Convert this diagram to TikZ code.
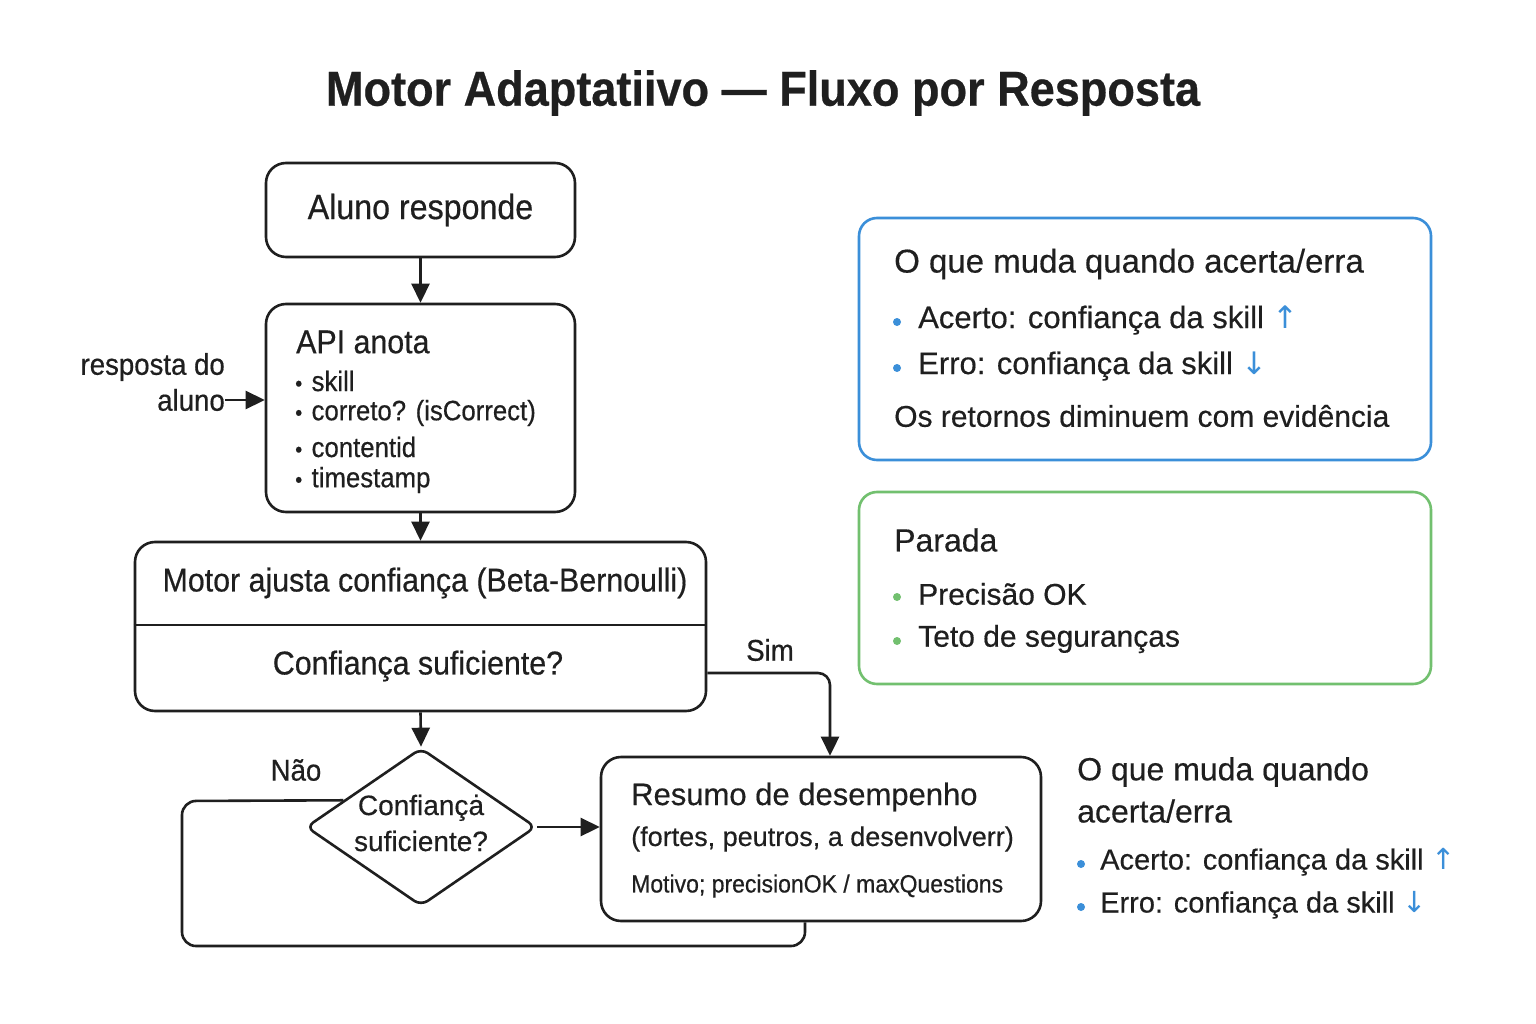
\documentclass[tikz,border=0pt]{standalone}
\usepackage{fontspec}
\setmainfont[FakeBold=0.4]{Liberation Sans}
\newfontfamily\cond[FakeStretch=0.92,FakeBold=0.5]{Liberation Sans}
\newfontfamily\dejavu{DejaVu Sans}
\usetikzlibrary{arrows.meta,shapes.geometric,calc}
\definecolor{ink}{HTML}{1F1F1F}
\definecolor{cblue}{HTML}{3B8FD9}
\definecolor{cgreen}{HTML}{72C06F}
\newcommand\fsz[2]{\fontsize{#1}{#2}\selectfont}
\begin{document}
\begin{tikzpicture}[x=1pt,y=-1pt,
  box/.style={draw=ink, line width=2.6pt, rounded corners=20pt, inner sep=0pt},
  lbl/.style={inner sep=0pt, text=ink, anchor=west},
  ctr/.style={inner sep=0pt, text=ink},
  conn/.style={draw=ink, line width=2.6pt},
  arr/.style={conn, -{Triangle[length=19pt,width=18pt]}},
  dotb/.style={fill=cblue},
  dotg/.style={fill=cgreen}]
\useasboundingbox[fill=white] (0,0) rectangle (1536,1024);

% title
\node[ctr] (title) at (763,93) {\cond\bfseries\fsz{49}{56}Motor Adaptatiivo — Fluxo por Resposta};

% box 1
\node[box, minimum width=309pt, minimum height=94pt] (b1) at (420.5,210) {};
\node[ctr] (t1) at (b1.center) {\cond\fsz{35}{40}Aluno responde};

% box 2
\node[box, minimum width=309pt, minimum height=208pt] (b2) at (420.5,408) {};
\node[lbl] (t2) at (296,342) {\cond\fsz{33}{38}API anota};
\node[lbl] (t2a) at (295,381) {\cond\fsz{28}{32}{\fsz{22}{32}•}\,\,skill};
\node[lbl] (t2b) at (295,413) {\cond\fsz{28}{32}{\fsz{22}{32}•}\,\,correto? (isCorrect)};
\node[lbl] (t2c) at (295,447) {\cond\fsz{28}{32}{\fsz{22}{32}•}\,\,contentid};
\node[lbl] (t2d) at (295,480) {\cond\fsz{28}{32}{\fsz{22}{32}•}\,\,timestamp};

% side label
\node[ctr, anchor=east] (r1) at (225,367) {\cond\fsz{30}{34}resposta do};
\node[ctr, anchor=east] (r2) at (225,400) {\cond\fsz{30}{34}aluno};
\draw[arr] (r2.east) -- (r2.east -| b2.west);

% box 3
\node[box, minimum width=571pt, minimum height=169pt] (b3) at (420.5,626.5) {};
\draw[conn] (b3.west |- 0,625) -- (b3.east |- 0,625);
\node[ctr] (t3a) at (425,583) {\cond\fsz{33}{38}Motor ajusta confiança (Beta-Bernoulli)};
\node[ctr] (t3b) at (418,666) {\cond\fsz{33}{38}Confiança suficiente?};

% diamond
\node[diamond, draw=ink, line width=2.6pt, minimum width=230pt, minimum height=158pt, inner sep=0pt, rounded corners=8pt] (dia) at (421,827) {};
\node[ctr, align=center, font=\fsz{28}{36}] (tdia) at (421,823) {Confiançȧ\\suficiente?};

% resume box
\node[box, minimum width=440pt, minimum height=164pt] (res) at (821,839) {};
\node[lbl] (tr1) at (631,797) {\fsz{31}{36}Resumo de desempenho};
\node[lbl] (tr2) at (631,839) {\fsz{27}{32}(fortes, peutros, a desenvolverr)};
\node[lbl] (tr3) at (631,886) {\cond\fsz{25}{30}Motivo; precisionOK / maxQuestions};

% connectors
\draw[arr] (b1.south) -- (b2.north);
\draw[arr] (b2.south) -- (b3.north);
\draw[arr] (b3.south) -- (dia.north);
\draw[arr] (dia.east) -- (dia.east -| res.west);
\draw[arr, rounded corners=12pt] (b3.east |- 0,673) -- (830,673) -- (830,0 |- res.north);
\draw[conn, rounded corners=14pt] (dia.161) -- (182,801) -- (182,946) -- (805,946) -- (805,0 |- res.south);
\node[ctr] (sim) at (770,650) {\cond\fsz{30}{34}Sim};
\node[ctr] (nao) at (296,770) {\cond\fsz{30}{34}Não};

% blue box
\node[box, draw=cblue, minimum width=572pt, minimum height=242pt, rounded corners=18pt] (bb) at (1145,339) {};
\node[lbl] (bt) at (894,264) {\fsz{33}{38}O que muda quando acerta/erra};
\fill[dotb] (897,322) circle (4pt);
\node[lbl] (bt1) at (918,320) {\fsz{31}{36}Acerto: confiança da skill {\color{cblue}\dejavu ↑}};
\fill[dotb] (897,368) circle (4pt);
\node[lbl] (bt2) at (918,366) {\fsz{31}{36}Erro: confiança da skill {\color{cblue}\dejavu ↓}};
\node[lbl] (bt3) at (894,416) {\fsz{30}{36}Os retornos diminuem com evidência};

% green box
\node[box, draw=cgreen, minimum width=572pt, minimum height=192pt, rounded corners=18pt] (gb) at (1145,588) {};
\node[lbl] (gt) at (894,540) {\fsz{32}{38}Parada};
\fill[dotg] (897,597) circle (4pt);
\node[lbl] (gt1) at (918,594) {\fsz{30}{36}Precisão OK};
\fill[dotg] (897,641) circle (4pt);
\node[lbl] (gt2) at (918,639) {\fsz{30}{36}Teto de seguranças};

% bottom right text
\node[lbl] (ot1) at (1077,772) {\fsz{32}{38}O que muda quando};
\node[lbl] (ot2) at (1077,811) {\fsz{32}{38}acerta/erra};
\fill[dotb] (1081,864) circle (4pt);
\node[lbl] (ot3) at (1100,862) {\fsz{29}{36}Acerto: confiança da skill {\color{cblue}\dejavu ↑}};
\fill[dotb] (1081,907) circle (4pt);
\node[lbl] (ot4) at (1100,905) {\fsz{29}{36}Erro: confiança da skill {\color{cblue}\dejavu ↓}};
\end{tikzpicture}
\end{document}
